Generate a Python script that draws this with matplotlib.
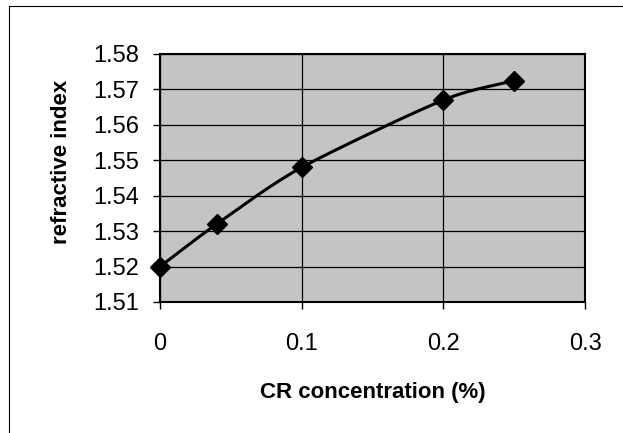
"""
refractive index vs CR concentration
"""
import numpy as np
import matplotlib
matplotlib.use("Agg")
import matplotlib.pyplot as plt
from matplotlib.lines import Line2D

concentration = [0, 0.04, 0.1, 0.2, 0.25]
refractive_index = [1.520, 1.532, 1.548, 1.567, 1.5725]

x_ticks = [0, 0.1, 0.2, 0.3]
y_ticks = [1.51, 1.52, 1.53, 1.54, 1.55, 1.56, 1.57, 1.58]


def smooth_curve(xs, ys, n=40):
    # catmull-rom style smoothing, like the spreadsheet "smoothed line"
    xs = np.asarray(xs, float)
    ys = np.asarray(ys, float)
    px = np.concatenate([[2 * xs[0] - xs[1]], xs, [2 * xs[-1] - xs[-2]]])
    py = np.concatenate([[2 * ys[0] - ys[1]], ys, [2 * ys[-1] - ys[-2]]])
    out_x, out_y = [], []
    t = np.linspace(0, 1, n)
    for i in range(1, len(px) - 2):
        for p, out in ((px, out_x), (py, out_y)):
            p0, p1, p2, p3 = p[i - 1], p[i], p[i + 1], p[i + 2]
            m1 = (p2 - p0) / 2 * 0.8
            m2 = (p3 - p1) / 2 * 0.8
            h00 = 2 * t**3 - 3 * t**2 + 1
            h10 = t**3 - 2 * t**2 + t
            h01 = -2 * t**3 + 3 * t**2
            h11 = t**3 - t**2
            out.extend(h00 * p1 + h10 * m1 + h01 * p2 + h11 * m2)
    return np.array(out_x), np.array(out_y)


plt.rcParams["font.family"] = ["Liberation Sans", "DejaVu Sans"]

fig = plt.figure(figsize=(6.23, 4.33), dpi=100)
ax = fig.add_axes([160 / 623, 1 - 302 / 433, 425 / 623, 248 / 433])
ax.set_facecolor("#c4c4c4")

sx, sy = smooth_curve(concentration, refractive_index)
ax.plot(sx, sy, color="black", lw=2.2, zorder=3)
ax.plot(concentration, refractive_index, "D", color="black", ms=10, zorder=4,
        clip_on=False)

ax.set_xlim(0, 0.3)
ax.set_ylim(1.51, 1.58)
ax.set_xticks(x_ticks)
ax.set_xticklabels(["0", "0.1", "0.2", "0.3"])
ax.set_yticks(y_ticks)
ax.set_yticklabels(["%.2f" % v for v in y_ticks])
ax.tick_params(direction="out", length=5, width=1, labelsize=17)
ax.tick_params(axis="x", pad=17)
ax.tick_params(axis="y", pad=10)
ax.grid(True, color="black", lw=0.9)
ax.set_axisbelow(True)
for s in ax.spines.values():
    s.set_linewidth(1.5)

ax.set_xlabel("CR concentration (%)", fontsize=16, fontweight="bold", labelpad=20)
ax.set_ylabel("refractive index", fontsize=16, fontweight="bold")
ax.yaxis.set_label_coords(-0.207, 0.565)

# outer chart border (left and top edges visible)
fig.add_artist(Line2D([9 / 623, 9 / 623], [0, 1 - 6 / 433], transform=fig.transFigure,
                      color="black", lw=0.8))
fig.add_artist(Line2D([9 / 623, 1], [1 - 6 / 433, 1 - 6 / 433], transform=fig.transFigure,
                      color="black", lw=0.8))

fig.savefig("out.png", dpi=100)
